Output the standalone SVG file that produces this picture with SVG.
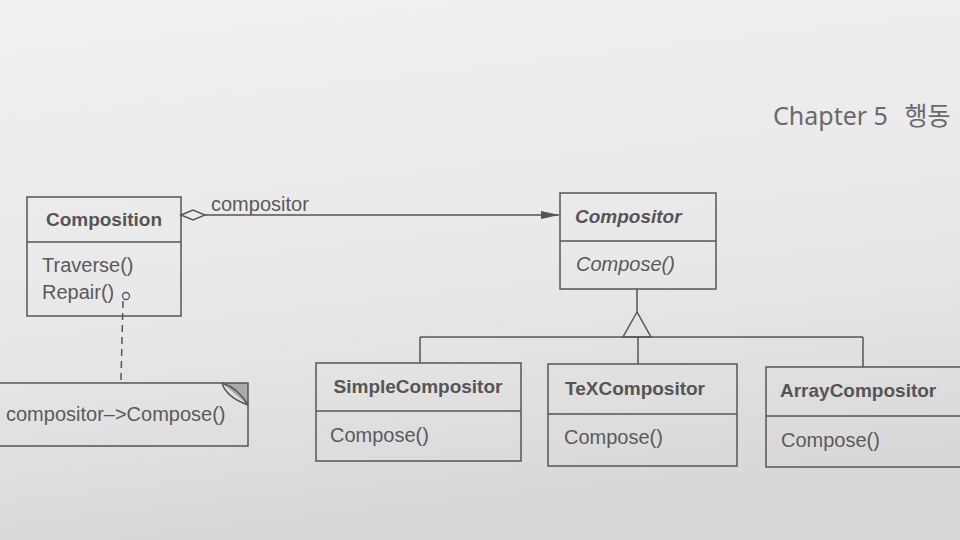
<svg xmlns="http://www.w3.org/2000/svg" width="960" height="540" viewBox="0 0 960 540">
<defs>
<linearGradient id="bg" x1="0" y1="0" x2="0.2" y2="1">
<stop offset="0" stop-color="#f1f1f1"/>
<stop offset="0.6" stop-color="#e8e8e8"/>
<stop offset="1" stop-color="#d8d8d8"/>
</linearGradient>
<marker id="arr" markerWidth="18" markerHeight="10" refX="18" refY="5" orient="auto" markerUnits="userSpaceOnUse">
<path d="M0,1 L18,5 L0,9 Z" fill="#555"/>
</marker>
<style>
.box{fill:none;stroke:#555;stroke-width:1.5}
.ln{fill:none;stroke:#555;stroke-width:1.5}
.nm{font-family:"Liberation Sans",Arial,sans-serif;font-weight:bold;font-size:19px;fill:#555}
.op{font-family:"Liberation Sans",Arial,sans-serif;font-size:20px;fill:#5a5a5a}
.it{font-style:italic}
</style>
</defs>
<rect width="960" height="540" fill="url(#bg)"/>
<text x="773" y="125" font-family="'Noto Sans','Noto Sans CJK KR',sans-serif" font-size="25" fill="#6a6a6a">Chapter 5 <tspan dx="10" font-family="'Noto Sans CJK KR',sans-serif">행동</tspan></text>

<g id="connectors">
<path class="ln" d="M181,215 L193,210 L205,215 L193,220 Z"/>
<path class="ln" d="M205,215 L559,215" marker-end="url(#arr)"/>
<text class="op" x="211" y="211">compositor</text>
<path class="ln" d="M123,301 L121,380" stroke-dasharray="7,5"/>
<circle cx="126" cy="296" r="3.5" fill="none" stroke="#555" stroke-width="1.3"/>
<path class="ln" d="M637,289 L637,312 M637,312 L623,337 L651,337 Z"/>
<path class="ln" d="M420,337 L863,337 M420,337 L420,363 M638,337 L638,364 M863,337 L863,367"/>
</g>

<g id="composition">
<rect class="box" x="27" y="197" width="154" height="119"/>
<line class="ln" x1="27" y1="242" x2="181" y2="242"/>
<text class="nm" x="104" y="226" text-anchor="middle">Composition</text>
<text class="op" x="42" y="272">Traverse()</text>
<text class="op" x="42" y="299">Repair()</text>
</g>

<g id="note">
<path d="M222,383 L248,383 L248,405 Z" fill="#aaa"/>
<path class="ln" d="M-2,383 L248,383 L248,446 L-2,446"/>
<path class="ln" d="M222,383 Q226,397 248,405 M222,383 Q238,388 248,405"/>
<text class="op" x="6" y="421">compositor–&gt;Compose()</text>
</g>

<g id="compositor">
<rect class="box" x="560" y="193" width="156" height="96"/>
<line class="ln" x1="560" y1="241" x2="716" y2="241"/>
<text class="nm it" x="575" y="223">Compositor</text>
<text class="op it" x="576" y="271">Compose()</text>
</g>

<g id="simple">
<rect class="box" x="316" y="363" width="205" height="98"/>
<line class="ln" x1="316" y1="411" x2="521" y2="411"/>
<text class="nm" x="418" y="393" text-anchor="middle">SimpleCompositor</text>
<text class="op" x="330" y="442">Compose()</text>
</g>

<g id="tex">
<rect class="box" x="548" y="364" width="189" height="102"/>
<line class="ln" x1="548" y1="414" x2="737" y2="414"/>
<text class="nm" x="635" y="395" text-anchor="middle">TeXCompositor</text>
<text class="op" x="564" y="444">Compose()</text>
</g>

<g id="array">
<rect class="box" x="766" y="367" width="200" height="100"/>
<line class="ln" x1="766" y1="416" x2="966" y2="416"/>
<text class="nm" x="780" y="397">ArrayCompositor</text>
<text class="op" x="781" y="447">Compose()</text>
</g>
</svg>
